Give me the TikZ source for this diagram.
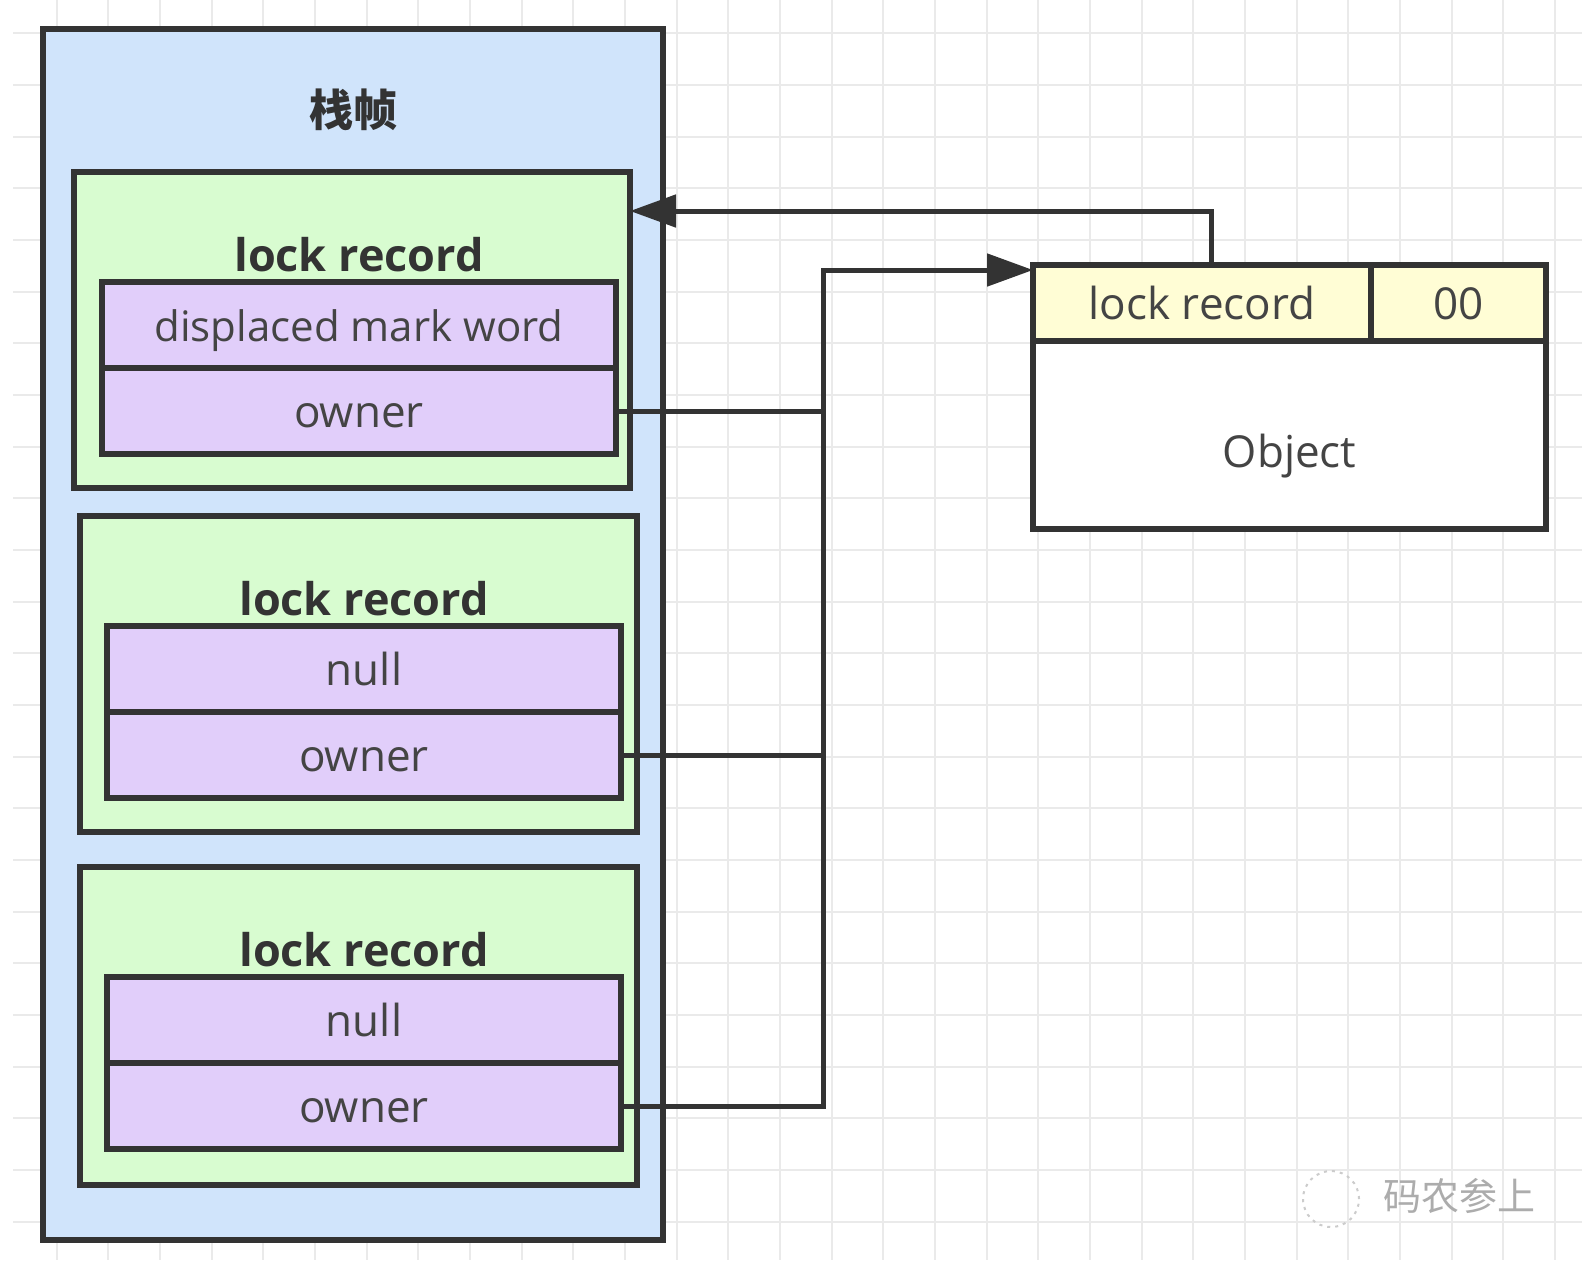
\documentclass[tikz,border=0pt]{standalone}
\usepackage{fontspec}
\setmainfont{Open Sans}
\newfontfamily\cjk{Noto Sans CJK SC}
\usepackage{tikz}
\usetikzlibrary{arrows.meta, positioning}
\definecolor{stackblue}{RGB}{208,228,251}
\definecolor{recgreen}{RGB}{216,252,208}
\definecolor{slotpurple}{RGB}{225,206,250}
\definecolor{hdryellow}{RGB}{255,253,213}
\definecolor{linegray}{RGB}{51,51,51}
\definecolor{txtgray}{RGB}{68,68,68}
\definecolor{gridgray}{RGB}{234,234,234}
\tikzstyle{stackframe} = [rectangle, draw=linegray, line width=2.75pt, fill=stackblue, outer sep=0pt, anchor=north west]
\tikzstyle{record} = [rectangle, draw=linegray, line width=2.75pt, fill=recgreen, outer sep=0pt, anchor=north west, minimum width=278.5pt, minimum height=158pt]
\tikzstyle{slot} = [rectangle, draw=linegray, line width=2.75pt, fill=slotpurple, outer sep=0pt, minimum width=257pt, minimum height=43pt, text=txtgray, text height=16.5pt, text depth=0pt]
\tikzstyle{heading} = [inner sep=0pt, font=\fontsize{22.5pt}{26pt}\selectfont\bfseries, text=linegray]
\tikzstyle{cell} = [rectangle, draw=linegray, line width=2.75pt, fill=hdryellow, outer sep=0pt, minimum height=38pt, text=txtgray, text height=16.5pt, text depth=0pt]
\tikzstyle{objbox} = [rectangle, draw=linegray, line width=2.75pt, fill=white, outer sep=0pt, minimum width=256.5pt, minimum height=94pt, text=txtgray, text height=32pt, text depth=0pt]
\tikzstyle{link} = [line width=2.5pt, draw=linegray]
\tikzstyle{arrow} = [link, -{Triangle[length=23pt, width=16pt]}]
\tikzstyle{gridline} = [line width=1pt, draw=gridgray]

\begin{document}
\begin{tikzpicture}[x=0.5pt, y=-0.5pt, every node/.style={font=\fontsize{22pt}{26pt}\selectfont}]

\useasboundingbox (0,0) rectangle (1582,1260);
\fill [white] (0,0) rectangle (1582,1260);

% Background grid
\foreach \gx in {0,...,29}
  \draw [gridline] ({56.7+51.67*\gx},0) -- ({56.7+51.67*\gx},1260);
\foreach \gy in {0,...,23}
  \draw [gridline] (13,{33.3+51.67*\gy}) -- (1582,{33.3+51.67*\gy});

% Stack frame
\node (stack) [stackframe, minimum width=310pt, minimum height=605.5pt] at (43,29) {};
\node (ttl) [text=linegray, font=\cjk\fontsize{22pt}{26pt}\selectfont\bfseries] at (353,110) {栈帧};

% Lock records
\node (rec1) [record, minimum width=278pt] at (74,172) {};
\node (dmw1) [slot, below right=55pt and 14pt of rec1.north west, anchor=north west, font=\fontsize{21pt}{26pt}\selectfont] {displaced mark word};
\node (own1) [slot, below=0pt of dmw1] {owner};
\node (lbl1) [heading, above=5pt of dmw1] {lock record};

\node (rec2) [record] at (80,516) {};
\node (nul2) [slot, below right=55pt and 13.5pt of rec2.north west, anchor=north west] {null};
\node (own2) [slot, below=0pt of nul2] {owner};
\node (lbl2) [heading, above=5pt of nul2] {lock record};

\node (rec3) [record, minimum height=159pt] at (80,867) {};
\node (nul3) [slot, below right=55pt and 13.5pt of rec3.north west, anchor=north west] {null};
\node (own3) [slot, below=0pt of nul3] {owner};
\node (lbl3) [heading, above=5pt of nul3] {lock record};

% Object
\node (hdr) [cell, minimum width=169pt, anchor=north west] at (1033,265) {lock record};
\node (bits) [cell, minimum width=87.5pt, right=0pt of hdr] {00};
\node (body) [objbox, below right=0pt and 0pt of hdr.south west, anchor=north west] {Object};

% Arrows
\coordinate (bus) at (823,270);
\coordinate (back) at (1211,211);
\draw [link] (own1.east) -- (own1.east -| bus);
\draw [link] (own2.east) -- (own2.east -| bus);
\draw [arrow] (own3.east) -| (bus) -- (bus -| hdr.west);
\draw [arrow] (back |- hdr.north) -- (back) -- (back -| rec1.east);

% Watermark
\draw [gray!40, line width=1pt, dash pattern=on 1.5pt off 2.5pt] (1331,1199) circle [radius=14pt];
\node (wm) [text=gray!65, font=\cjk\fontsize{19pt}{22pt}\selectfont] at (1459,1196) {码农参上};

\end{tikzpicture}
\end{document}
